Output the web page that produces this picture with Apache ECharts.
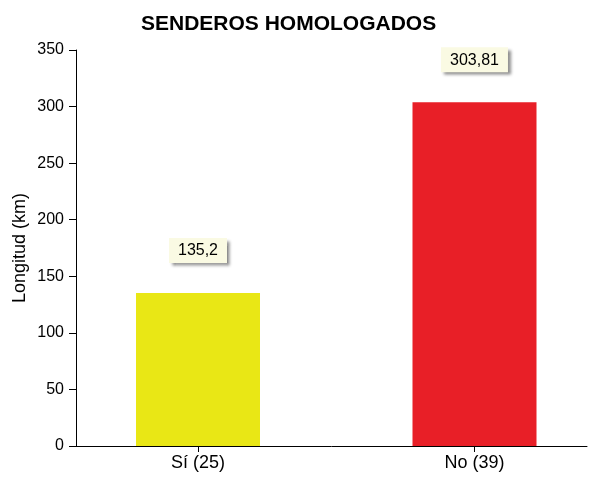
<!DOCTYPE html>
<html>
<head>
<meta charset="utf-8">
<script src="https://cdn.jsdelivr.net/npm/echarts@6/dist/echarts.min.js"></script>
<style>
html,body{margin:0;padding:0;background:#fff;}
#c{width:594px;height:479px;}
</style>
</head>
<body>
<div id="c"></div>
<script>
var titleText = 'SENDEROS HOMOLOGADOS';
var categories = ['Sí (25)', 'No (39)'];
var values = [135.2, 303.81];
var barColors = ['#E9E715', '#E81F27'];
var yTicks = [0, 50, 100, 150, 200, 250, 300, 350];
var yName = 'Longitud (km)';

var chart = echarts.init(document.getElementById('c'), null, {renderer: 'canvas'});
var font = 'Liberation Sans, Arial, sans-serif';
chart.setOption({
  animation: false,
  title: {
    text: titleText, left: 136, top: 9,
    textStyle: {fontFamily: font, fontSize: 21, fontWeight: 'bold', color: '#000'}
  },
  grid: [
    {left: 76, right: 7, top: 50, bottom: 33, containLabel: false, outerBoundsMode: 'none'},
    {left: 59.75, width: 553, top: 50, bottom: 33, containLabel: false, outerBoundsMode: 'none'}
  ],
  xAxis: [
    {type: 'value', gridIndex: 0, min: 0, max: 1,
     axisLine: {show: true, lineStyle: {color: '#000', width: 1}},
     axisTick: {show: false}, axisLabel: {show: false}, splitLine: {show: false}},
    {type: 'category', gridIndex: 1, data: categories,
     axisLine: {show: false},
     axisTick: {show: true, alignWithLabel: true, length: 6, lineStyle: {color: '#000'}},
     axisLabel: {color: '#000', fontFamily: font, fontSize: 18, margin: 8}}
  ],
  yAxis: [
    {type: 'value', gridIndex: 0, min: yTicks[0], max: yTicks[yTicks.length - 1], interval: 50,
     name: yName, nameLocation: 'middle', nameGap: 47, nameRotate: 90, nameMoveOverlap: false,
     nameTextStyle: {color: '#000', fontFamily: font, fontSize: 18},
     axisLine: {show: true, lineStyle: {color: '#000', width: 1}},
     axisTick: {show: true, length: 7, lineStyle: {color: '#000'}},
     axisLabel: {color: '#000', fontFamily: font, fontSize: 16, margin: 12},
     splitLine: {show: false}},
    {type: 'value', gridIndex: 1, min: 0, max: 350, interval: 50, show: false, splitLine: {show: false}}
  ],
  series: [{
    type: 'bar', xAxisIndex: 1, yAxisIndex: 1,
    barWidth: 124,
    data: values.map(function (v, i) { return {value: v, itemStyle: {color: barColors[i]}}; }),
    label: {
      show: true, position: 'top', distance: 30,
      formatter: function (p) { return String(p.value).replace('.', ','); },
      color: '#000', fontFamily: font, fontSize: 16,
      backgroundColor: '#FAFAE3', padding: [5, 9, 4, 9],
      shadowColor: 'rgba(0,0,0,0.45)', shadowBlur: 3, shadowOffsetX: 3, shadowOffsetY: 3
    }
  }]
});
</script>
</body>
</html>
